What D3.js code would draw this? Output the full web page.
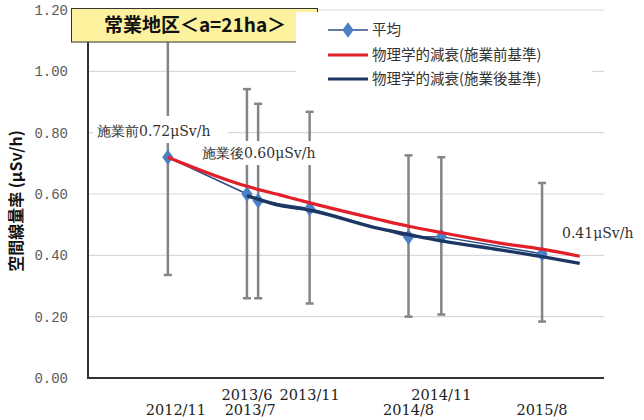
<!DOCTYPE html>
<html>
<head>
<meta charset="utf-8">
<script src="https://cdn.jsdelivr.net/npm/d3@7"></script>
<style>
  html, body { margin: 0; padding: 0; background: #fff; }
  svg { display: block; }
</style>
</head>
<body>
<svg id="chart" width="644" height="420"></svg>
<script>
// Survey dates and air dose rate statistics (μSv/h)
const surveyDates = ["2012-11-05", "2013-06-05", "2013-07-05", "2013-11-20", "2014-08-12", "2014-11-08", "2015-08-05"];
const dateLabels  = ["2012/11", "2013/6", "2013/7", "2013/11", "2014/8", "2014/11", "2015/8"];
const meanValues  = [0.72, 0.60, 0.578, 0.553, 0.46, 0.461, 0.405];
const maxValues   = [1.20, 0.942, 0.894, 0.868, 0.726, 0.72, 0.636];
const minValues   = [0.336, 0.26, 0.26, 0.243, 0.20, 0.207, 0.184];

// Physical decay curves (pre-work and post-work baselines)
const decayDates    = ["2012-11-05", "2013-06-05", "2013-09-01", "2013-11-21", "2014-05-27", "2014-08-16", "2014-11-09", "2015-04-14", "2015-08-05", "2015-11-14"];
const decayBefore   = [0.72, 0.625, 0.597, 0.571, 0.516, 0.494, 0.474, 0.44, 0.42, 0.397];
const decayAfter    = [null, 0.595, 0.563, 0.547, 0.487, 0.467, 0.447, 0.418, 0.396, 0.374];

const yTicks = [0, 0.2, 0.4, 0.6, 0.8, 1.0, 1.2];
const titleText = "常業地区＜a=21ha＞";
const yTitle = "空間線量率 (μSv/h)";
const legendLabels = ["平均", "物理学的減衰(施業前基準)", "物理学的減衰(施業後基準)"];
const noteBefore = "施業前0.72μSv/h";
const noteAfter = "施業後0.60μSv/h";
const noteEnd = "0.41μSv/h";

const parse = d3.timeParse("%Y-%m-%d");
const svg = d3.select("#chart");

const x = d3.scaleTime()
  .domain([parse("2012-04-05"), parse("2016-01-18")])
  .range([88, 604]);
const y = d3.scaleLinear().domain([0, 1.2]).range([378, 10]);

const serif = "'DejaVu Serif', serif";
const cjk = "'Noto Sans CJK JP', sans-serif";

// Horizontal gridlines
svg.append("g").selectAll("line").data(yTicks.filter(t => t > 0)).join("line")
  .attr("x1", x.range()[0]).attr("x2", x.range()[1])
  .attr("y1", d => y(d)).attr("y2", d => y(d))
  .attr("stroke", "#d9d9d9").attr("stroke-width", 1.2);

// Y axis tick labels
const yAxis = d3.axisLeft(y).tickValues(yTicks).tickFormat(d3.format(".2f")).tickSize(0).tickPadding(20);
const yg = svg.append("g").attr("transform", `translate(${x.range()[0]},0)`).call(yAxis);
yg.select(".domain").remove();
yg.selectAll("text")
  .attr("font-family", "'Liberation Mono', 'DejaVu Sans Mono', monospace")
  .attr("font-size", 14).attr("fill", "#5a5a5a");

// Axis lines
svg.append("line").attr("x1", x.range()[0]).attr("x2", x.range()[0])
  .attr("y1", y(1.2)).attr("y2", y(0)).attr("stroke", "#333").attr("stroke-width", 2);
svg.append("line").attr("x1", x.range()[0] - 1).attr("x2", x.range()[1])
  .attr("y1", y(0)).attr("y2", y(0)).attr("stroke", "#333").attr("stroke-width", 2);

// X labels in two staggered rows
const upperRow = new Set(["2013/6", "2013/11", "2014/11"]);
const nudge = { "2012/11": 8, "2013/7": -8 };
svg.append("g").selectAll("text").data(dateLabels).join("text")
  .attr("x", (d, i) => x(parse(surveyDates[i])) + (nudge[d] || 0))
  .attr("y", d => upperRow.has(d) ? 400 : 415)
  .attr("text-anchor", "middle")
  .attr("font-family", serif).attr("font-size", 14.5).attr("fill", "#222")
  .text(d => d);

// Y axis title
svg.append("text")
  .attr("transform", "translate(22,201) rotate(-90)")
  .attr("text-anchor", "middle")
  .attr("font-family", cjk).attr("font-weight", "bold").attr("font-size", 16).attr("fill", "#111")
  .text(yTitle);

const survey = surveyDates.map((d, i) => ({
  date: parse(d), mean: meanValues[i], max: maxValues[i], min: minValues[i]
}));

// Error bars (min to max)
const eb = svg.append("g").attr("stroke", "#858585").attr("stroke-width", 2.5);
eb.selectAll("line.v").data(survey).join("line").attr("class", "v")
  .attr("x1", d => x(d.date)).attr("x2", d => x(d.date))
  .attr("y1", d => y(d.max)).attr("y2", d => y(d.min));
eb.selectAll("line.t").data(survey).join("line").attr("class", "t")
  .attr("x1", d => x(d.date) - 4).attr("x2", d => x(d.date) + 4)
  .attr("y1", d => y(d.max)).attr("y2", d => y(d.max));
eb.selectAll("line.b").data(survey).join("line").attr("class", "b")
  .attr("x1", d => x(d.date) - 4).attr("x2", d => x(d.date) + 4)
  .attr("y1", d => y(d.min)).attr("y2", d => y(d.min));

// Mean line with diamond markers
const meanLine = d3.line().x(d => x(d.date)).y(d => y(d.mean));
svg.append("path").datum(survey).attr("d", meanLine)
  .attr("fill", "none").attr("stroke", "#2c4c86").attr("stroke-width", 1.5);
const diamond = d3.symbol().type(d3.symbolDiamond).size(70);
svg.append("g").selectAll("path").data(survey).join("path")
  .attr("transform", d => `translate(${x(d.date)},${y(d.mean)}) scale(1.25,1)`)
  .attr("d", diamond).attr("fill", "#4a80c4");

// Decay curves
const curve = d3.line().defined(d => d.v != null)
  .x(d => x(d.date)).y(d => y(d.v)).curve(d3.curveMonotoneX);
const before = decayDates.map((d, i) => ({ date: parse(d), v: decayBefore[i] }));
const after = decayDates.map((d, i) => ({ date: parse(d), v: decayAfter[i] }));
svg.append("path").datum(before).attr("d", curve)
  .attr("fill", "none").attr("stroke", "#e3202a").attr("stroke-width", 3.2);
svg.append("path").datum(after).attr("d", curve)
  .attr("fill", "none").attr("stroke", "#1c3764").attr("stroke-width", 3.4);

// Annotations with white backing
function note(text, xPos, yBase, box) {
  if (box) {
    svg.append("rect").attr("x", box[0]).attr("y", box[1]).attr("width", box[2]).attr("height", box[3]).attr("fill", "#fff");
  }
  svg.append("text").attr("x", xPos).attr("y", yBase)
    .attr("font-family", serif).attr("font-size", 14).attr("fill", "#333").text(text);
}
note(noteBefore, 97, 136, [93, 116, 135, 27]);
note(noteAfter, 202, 158, [198, 141, 126, 24]);
note(noteEnd, 562, 238, null);

// Title box
svg.append("rect").attr("x", 71.5).attr("y", 8.5).attr("width", 246).attr("height", 33.5)
  .attr("fill", "#fcf29e").attr("stroke", "#333").attr("stroke-width", 1);
svg.append("text").attr("x", 195).attr("y", 32).attr("text-anchor", "middle")
  .attr("font-family", cjk).attr("font-weight", "bold").attr("font-size", 19).attr("fill", "#111")
  .text(titleText);

// Legend
svg.append("rect").attr("x", 296).attr("y", 12).attr("width", 296).attr("height", 84).attr("fill", "#fff");
const legendColors = ["#2c4c86", "#e3202a", "#1c3764"];
const legendY = [30, 55, 79];
const lg = svg.append("g");
legendLabels.forEach((lab, i) => {
  lg.append("line").attr("x1", 328).attr("x2", 368).attr("y1", legendY[i]).attr("y2", legendY[i])
    .attr("stroke", legendColors[i]).attr("stroke-width", i === 0 ? 1.5 : 3.2);
  if (i === 0) {
    lg.append("path").attr("transform", `translate(348,${legendY[i]}) scale(1.25,1)`)
      .attr("d", diamond).attr("fill", "#4a80c4");
  }
  lg.append("text").attr("x", 372).attr("y", legendY[i] + 5)
    .attr("font-family", cjk).attr("font-size", 14.5).attr("fill", "#333").text(lab);
});
</script>
</body>
</html>
